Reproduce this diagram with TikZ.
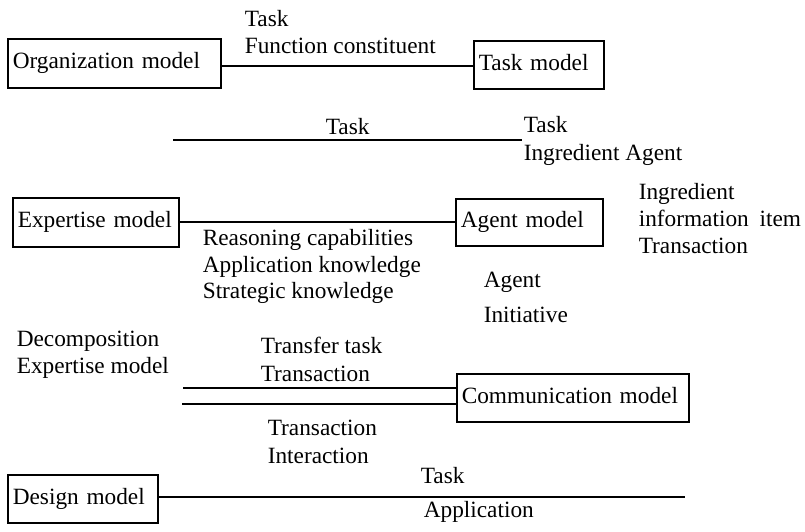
\documentclass[tikz,border=0pt]{standalone}
\usepackage{fontspec}
\setmainfont{Liberation Serif}
\begin{document}
\begin{tikzpicture}[x=1pt,y=-1pt,
  font=\fontsize{23.3}{27}\selectfont,
  line width=1.6pt,
  box/.style={draw, rectangle, anchor=north west, inner xsep=5pt, inner ysep=0pt,
    align=left, text height=16pt, text depth=5pt},
  lbl/.style={anchor=base west, inner sep=0pt}]
\useasboundingbox (0,0) rectangle (805,531);

% model boxes
\node[box, minimum width=213pt, minimum height=49pt, text width=203pt] (org) at (7,38) {Organization model};
\node[box, minimum width=130pt, minimum height=48pt, text width=120pt] (task) at (473,40) {Task model};
\node[box, minimum width=166pt, minimum height=49pt, text width=156pt] (exp) at (12,197) {Expertise model};
\node[box, minimum width=147pt, minimum height=47pt, text width=137pt] (agent) at (455,198) {Agent model};
\node[box, minimum width=232pt, minimum height=48pt, text width=222pt] (comm) at (456,373) {Communication model};
\node[box, minimum width=150pt, minimum height=48pt, text width=140pt] (design) at (7,474) {Design model};

% free line ends
\coordinate (tA) at (173,140);
\coordinate (tB) at (522,140);
\coordinate (cA) at (183,388);
\coordinate (cB) at (182,404);
\coordinate (dE) at (685,497);

% connectors
\draw ([yshift=-2.5pt]org.east) -- ([yshift=-2.5pt]org.east -| task.west);
\draw (tA) -- (tB);
\draw ([yshift=0.5pt]exp.east) -- ([yshift=0.5pt]exp.east -| agent.west);
\draw (cA) -- (cA -| comm.west);
\draw (cB) -- (cB -| comm.west);
\draw (design.east |- dE) -- (dE);

% labels
\node[lbl] (l1a) at (244,26) {Task};
\node[lbl] (l1b) at (244,53) {Function constituent};
\node[lbl] (l2) at (325,134) {Task};
\node[lbl] (l3a) at (523,132) {Task};
\node[lbl] (l3b) at (523,160) {Ingredient Agent};
\node[lbl] (l4a) at (638,199) {Ingredient};
\node[lbl] (l4b) at (638,226) {information\hspace{5pt} item};
\node[lbl] (l4c) at (638,253) {Transaction};
\node[lbl] (l5a) at (202,245) {Reasoning capabilities};
\node[lbl] (l5b) at (202,272) {Application knowledge};
\node[lbl] (l5c) at (202,298) {Strategic knowledge};
\node[lbl] (l6a) at (483,287) {Agent};
\node[lbl] (l6b) at (483,322) {Initiative};
\node[lbl] (l7a) at (16,346) {Decomposition};
\node[lbl] (l7b) at (16,373) {Expertise model};
\node[lbl] (l8a) at (260,353) {Transfer task};
\node[lbl] (l8b) at (260,381) {Transaction};
\node[lbl] (l9a) at (267,435) {Transaction};
\node[lbl] (l9b) at (267,463) {Interaction};
\node[lbl] (l10a) at (420,483) {Task};
\node[lbl] (l10b) at (423,517) {Application};
\end{tikzpicture}
\end{document}
